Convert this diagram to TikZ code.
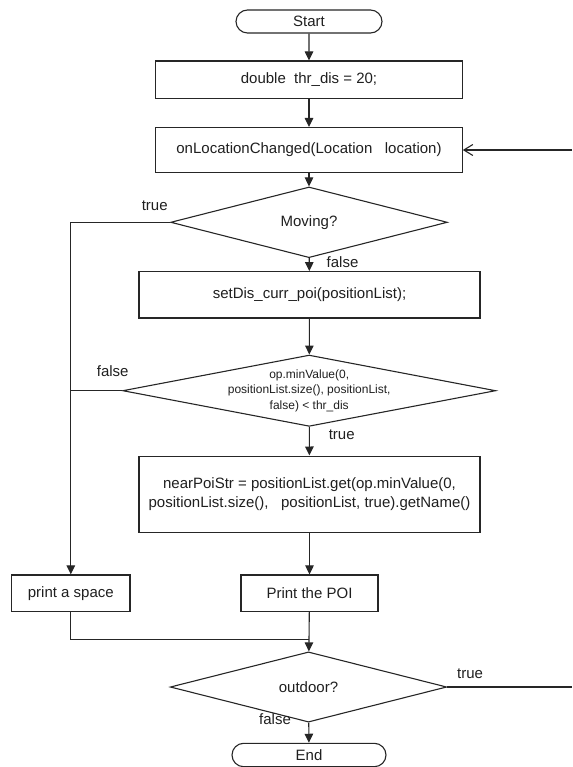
\documentclass[tikz,border=0pt]{standalone}
\usepackage{fontspec}
\setmainfont{Liberation Sans}
\usetikzlibrary{shapes.geometric,shapes.misc,arrows.meta}
\begin{document}
\begin{tikzpicture}[x=1pt,y=-1pt,
  every node/.style={font=\fontsize{15}{17.5}\selectfont, text=black!88},
  line/.style={draw=black!85, line width=1.1pt},
  arr/.style={line, -{Triangle[length=9pt,width=8.5pt]}},
  openarr/.style={line, -{Straight Barb[length=9pt,width=11pt]}},
  box/.style={draw=black!85, line width=1.1pt, rectangle, inner sep=0pt, align=center},
  term/.style={draw=black!85, line width=1.1pt, rounded rectangle, inner sep=0pt},
  dia/.style={draw=black!85, line width=1.1pt, diamond, inner sep=0pt},
  lbl/.style={inner sep=0pt}]
\useasboundingbox (0,0) rectangle (572,767);
\node[term, minimum width=146pt, minimum height=23pt] (start) at (309,21.5) {Start};
\node[box, minimum width=306.5pt, minimum height=37.5pt] (init) at (309,79.75) {double\ \ thr\_dis = 20;};
\node[box, minimum width=306.5pt, minimum height=45pt] (loc) at (309,150) {onLocationChanged(Location\ \ \ location)};
\node[dia, minimum width=276.7pt, minimum height=40.4pt] (mov) at (309,222.3) {Moving?};
\node[box, minimum width=341pt, minimum height=46.3pt] (set) at (309.5,294.8) {setDis\_curr\_poi(positionList);};
\node[dia, minimum width=373pt, minimum height=71.3pt] (cmp) at (309.2,390.7) {};
\node[lbl, align=center, font=\fontsize{12}{15.5}\selectfont] (cmpt) at (309.2,390.5) {op.minValue(0,\\positionList.size(), positionList,\\false) {<} thr\_dis};
\node[box, minimum width=341pt, minimum height=76.3pt, font=\fontsize{15}{19}\selectfont] (near) at (309.5,494.2) {nearPoiStr = positionList.get(op.minValue(0,\\positionList.size(),\ \ \ positionList, true).getName()};
\node[box, minimum width=137pt, minimum height=36.7pt] (poi) at (309.5,593.3) {Print the POI};
\node[box, minimum width=118.3pt, minimum height=36.7pt] (space) at (70.8,593.3) {print a space};
\node[dia, minimum width=276.4pt, minimum height=40.6pt] (out) at (308.5,687) {outdoor?};
\node[term, minimum width=154pt, minimum height=23.4pt] (end) at (309,755) {End};
\coordinate (merge) at (309,639.3);
\coordinate (outR) at (572,687);
\coordinate (inR) at (572,150);
% connectors
\draw[arr] (start) -- (init);
\draw[arr] (init) -- (loc);
\draw[arr] (loc) -- (mov);
\draw[arr] (mov) -- (set);
\draw[arr] (set) -- (cmp);
\draw[arr] (cmp) -- (near);
\draw[arr] (near) -- (poi);
\draw[arr] (poi) -- (out);
\draw[arr] (out) -- (end);
\draw[arr] (mov.west) -| (space.north);
\draw[line] (cmp.west) -- (cmp.west -| space.north);
\draw[line] (space.south) |- (merge);
\draw[line] (out.east) -- (outR);
\draw[openarr] (inR) -- (loc.east);
% labels
\node[lbl] at (154.7,205.7) {true};
\node[lbl] at (342.5,261.7) {false};
\node[lbl] at (112.7,371) {false};
\node[lbl] at (341.7,435) {true};
\node[lbl] at (470,673.3) {true};
\node[lbl] at (275,719.3) {false};
\end{tikzpicture}
\end{document}
